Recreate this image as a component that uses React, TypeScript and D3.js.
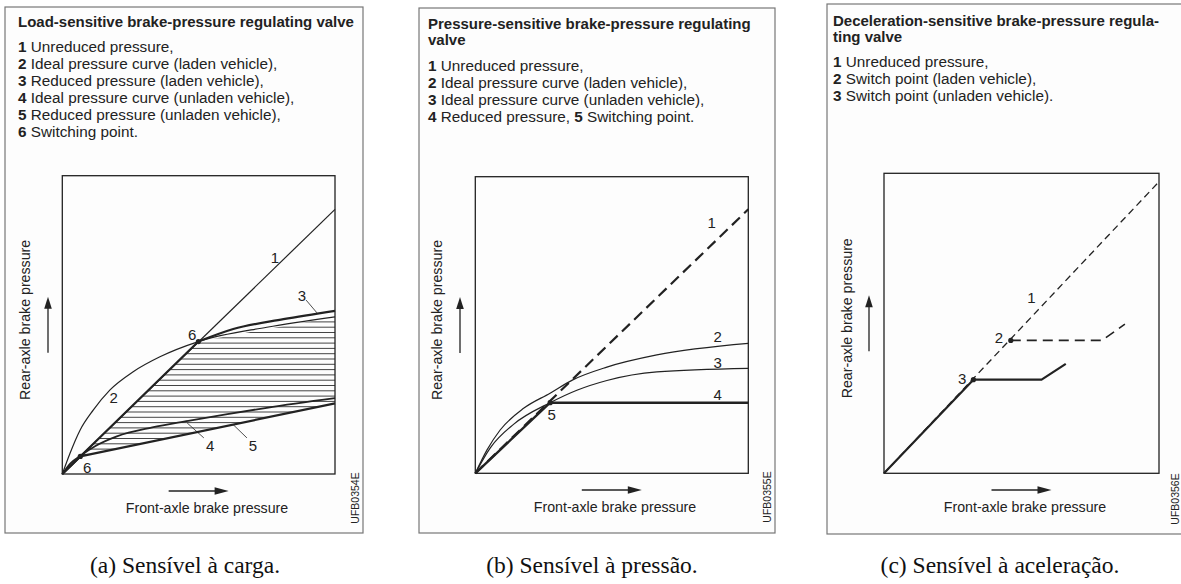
import React from "react";
import * as d3 from "d3";

type Pt = [number, number];

// Axes of every diagram: front-axle pressure (x) and rear-axle pressure (y), 0–100 % of the plot
const axisDomain: [number, number] = [0, 100];

// (a) Load-sensitive valve
const loadUnreduced: Pt[] = [[0, 0], [100, 88.7]];
const loadIdealLaden: Pt[] = [[0, 0], [2.8, 6.9], [6.5, 14.7], [11.4, 21.5], [17.5, 28.2], [26.0, 34.3], [35.8, 39.3], [49.9, 44.4], [75, 49.2], [100, 52.7]];
const loadReducedLaden: Pt[] = [[0, 0], [49.9, 44.4], [62.7, 48.6], [81.1, 51.9], [100, 54.7]];
const loadIdealUnladen: Pt[] = [[0, 0], [3, 3.6], [6.6, 6.1], [12, 9.3], [20, 12.6], [33, 15.6], [46.2, 17.8], [60, 20], [75, 22.2], [100, 25.4]];
const loadReducedUnladen: Pt[] = [[0, 0], [6.6, 5.9], [100, 23.7]];
const loadSwitchPoints: Pt[] = [[49.9, 44.4], [6.6, 5.9]];
const loadLabels: [string, number, number][] = [["1", 78, 72.7], ["2", 18.8, 25.8], ["3", 87.9, 60], ["6", 47.6, 46.8], ["6", 9.1, 2.3], ["4", 54.2, 9.7], ["5", 69.9, 9.7]];
const loadLeaders: [Pt, Pt][] = [[[89.4, 58.3], [93.4, 54]], [[51.9, 12.1], [45.8, 17.1]], [[67.7, 12.1], [62.6, 16.6]]];

// (b) Pressure-sensitive valve
const pressUnreduced: Pt[] = [[0, 0], [100, 89]];
const pressIdealLaden: Pt[] = [[0, 0], [4.3, 7.9], [9.1, 14.6], [17.7, 21.9], [27.4, 27.0], [35.7, 31.5], [48.2, 35.8], [66.5, 39.9], [100, 43.8]];
const pressIdealUnladen: Pt[] = [[0, 0], [5.5, 8.6], [14.0, 16.5], [27.4, 23.8], [37.2, 28.0], [48.2, 31.3], [66.5, 34.2], [100, 35.4]];
const pressReduced: Pt[] = [[0, 0], [27.4, 23.8], [100, 23.8]];
const pressSwitchPoints: Pt[] = [[27.4, 23.8]];
const pressLabels: [string, number, number][] = [["1", 86.6, 84.5], ["2", 88.8, 46], ["3", 88.8, 37.5], ["4", 88.8, 26.4], ["5", 28.0, 19.7]];

// (c) Deceleration-sensitive valve
const decelUnreduced: Pt[] = [[0, 0], [100, 97.2]];
const decelUnladen: Pt[] = [[0, 0], [32.5, 31.2], [57.3, 31.2], [66.1, 36.5]];
const decelLaden: Pt[] = [[46.1, 44.3], [79.2, 44.3], [87.6, 49.7]];
const decelSwitchPoints: Pt[] = [[46.1, 44.3], [32.5, 31.2]];
const decelLabels: [string, number, number][] = [["1", 53.6, 58.6], ["2", 41.8, 45.3], ["3", 28.4, 31.6]];

// Header texts
const loadTitle = ["Load-sensitive brake-pressure regulating valve"];
const loadLegend = ["1 Unreduced pressure,", "2 Ideal pressure curve (laden vehicle),", "3 Reduced pressure (laden vehicle),", "4 Ideal pressure curve (unladen vehicle),", "5 Reduced pressure (unladen vehicle),", "6 Switching point."];
const pressTitle = ["Pressure-sensitive brake-pressure regulating", "valve"];
const pressLegend = ["1 Unreduced pressure,", "2 Ideal pressure curve (laden vehicle),", "3 Ideal pressure curve (unladen vehicle),", "4 Reduced pressure, 5 Switching point."];
const decelTitle = ["Deceleration-sensitive brake-pressure regula-", "ting valve"];
const decelLegend = ["1 Unreduced pressure,", "2 Switch point (laden vehicle),", "3 Switch point (unladen vehicle)."];

const yAxisLabel = "Rear-axle brake pressure";
const xAxisLabel = "Front-axle brake pressure";
const drawingCodes = ["UFB0354E", "UFB0355E", "UFB0356E"];
const captions = ["(a) Sensível à carga.", "(b) Sensível à pressão.", "(c) Sensível à aceleração."];

const SANS = "'Liberation Sans', Arial, Helvetica, sans-serif";
const SERIF = "'Liberation Serif', 'Times New Roman', serif";
const INK = "#222";

type Box = { x0: number; y0: number; x1: number; y1: number };
// smoothFrom: index from which the series is drawn as a smooth curve (straight before it)
type Curve = { pts: Pt[]; width: number; dash?: string; smoothFrom?: number };

interface PanelProps {
  id: string;
  frame: Box;
  plot: Box;
  textX: number;
  title: string[];
  titleY: number;
  legend: string[];
  legendY: number;
  yLabelX: number;
  yArrowX: number;
  xLabelX: number;
  xLabelY: number;
  xArrowY: number;
  codeX: number;
  codeY: number;
  code: string;
  curves: Curve[];
  dots: Pt[];
  labels: [string, number, number][];
  leaders?: [Pt, Pt][];
  hatch?: Pt[];
}

function LegendLine({ text, x, y }: { text: string; x: number; y: number }) {
  const parts = text.split(/(\d+)/).filter((s) => s.length > 0);
  return (
    <text x={x} y={y} fontFamily={SANS} fontSize={15.3} fill={INK}>
      {parts.map((p, i) => (
        <tspan key={i} fontWeight={/^\d+$/.test(p) ? "bold" : "normal"}>{p}</tspan>
      ))}
    </text>
  );
}

function Panel(p: PanelProps) {
  const x = d3.scaleLinear().domain(axisDomain).range([p.plot.x0, p.plot.x1]);
  const y = d3.scaleLinear().domain(axisDomain).range([p.plot.y1, p.plot.y0]);
  const straight = d3.line<Pt>().x((d) => x(d[0])).y((d) => y(d[1]));
  const smooth = d3.line<Pt>().x((d) => x(d[0])).y((d) => y(d[1])).curve(d3.curveMonotoneX);

  const curvePath = (c: Curve) => {
    if (c.smoothFrom === undefined) return straight(c.pts) || "";
    const head = c.pts.slice(0, c.smoothFrom + 1);
    const tail = c.pts.slice(c.smoothFrom);
    return (head.length > 1 ? straight(head) || "" : "") + (smooth(tail) || "");
  };

  const hatchLines: number[] = [];
  if (p.hatch) {
    const ys = p.hatch.map((d) => y(d[1]));
    const top = Math.min(...ys), bottom = Math.max(...ys);
    for (let v = bottom - 2; v > top; v -= 5.3) hatchLines.push(v);
  }

  const ymid = (p.plot.y0 + p.plot.y1) / 2;
  const xmid = (p.plot.x0 + p.plot.x1) / 2;

  return (
    <g>
      <rect x={p.frame.x0} y={p.frame.y0} width={p.frame.x1 - p.frame.x0} height={p.frame.y1 - p.frame.y0} fill="#fdfdfd" stroke="#777" strokeWidth={1.2} />
      {p.title.map((t, i) => (
        <text key={i} x={p.textX} y={p.titleY + i * 16.5} fontFamily={SANS} fontSize={15} fontWeight="bold" fill={INK}>{t}</text>
      ))}
      {p.legend.map((t, i) => (
        <LegendLine key={i} text={t} x={p.textX} y={p.legendY + i * 17} />
      ))}

      {/* axis captions with direction arrows */}
      <text transform={`translate(${p.yLabelX},${ymid - 5}) rotate(-90)`} textAnchor="middle" dominantBaseline="central" fontFamily={SANS} fontSize={14.2} fill={INK}>{yAxisLabel}</text>
      <line x1={p.yArrowX} x2={p.yArrowX} y1={ymid + 28} y2={ymid - 18} stroke={INK} strokeWidth={1.3} />
      <path d={`M${p.yArrowX - 3.8},${ymid - 16} L${p.yArrowX},${ymid - 28} L${p.yArrowX + 3.8},${ymid - 16} Z`} fill={INK} />
      <text x={p.xLabelX} y={p.xLabelY} textAnchor="middle" fontFamily={SANS} fontSize={14.2} fill={INK}>{xAxisLabel}</text>
      <line x1={xmid - 30} x2={xmid + 18} y1={p.xArrowY} y2={p.xArrowY} stroke={INK} strokeWidth={1.3} />
      <path d={`M${xmid + 16},${p.xArrowY - 3.8} L${xmid + 30},${p.xArrowY} L${xmid + 16},${p.xArrowY + 3.8} Z`} fill={INK} />
      <text transform={`translate(${p.codeX},${p.codeY}) rotate(-90)`} textAnchor="middle" dominantBaseline="central" fontFamily={SANS} fontSize={10.5} fill={INK}>{p.code}</text>

      {/* hatched band between the reduced-pressure lines */}
      {p.hatch && (
        <>
          <clipPath id={`hatch-${p.id}`}>
            <path d={straight(p.hatch.concat([p.hatch[0]])) || ""} />
          </clipPath>
          <g clipPath={`url(#hatch-${p.id})`}>
            {hatchLines.map((v, i) => (
              <line key={i} x1={p.plot.x0} x2={p.plot.x1} y1={v} y2={v} stroke={INK} strokeWidth={0.85} />
            ))}
          </g>
        </>
      )}

      <rect x={p.plot.x0} y={p.plot.y0} width={p.plot.x1 - p.plot.x0} height={p.plot.y1 - p.plot.y0} fill="none" stroke={INK} strokeWidth={1.3} />

      {p.curves.map((c, i) => (
        <path key={i} d={curvePath(c)} fill="none" stroke={INK} strokeWidth={c.width} strokeDasharray={c.dash} strokeLinejoin="round" />
      ))}
      {p.leaders?.map((l, i) => (
        <line key={i} x1={x(l[0][0])} y1={y(l[0][1])} x2={x(l[1][0])} y2={y(l[1][1])} stroke={INK} strokeWidth={0.8} />
      ))}
      {p.dots.map((d, i) => (
        <circle key={i} cx={x(d[0])} cy={y(d[1])} r={2.6} fill={INK} />
      ))}
      {p.labels.map(([t, lx, ly], i) => (
        <text key={i} x={x(lx)} y={y(ly)} textAnchor="middle" dominantBaseline="central" fontFamily={SANS} fontSize={15} fill={INK}>{t}</text>
      ))}
    </g>
  );
}

export default function App() {
  return (
    <svg width={1181} height={584} viewBox="0 0 1181 584" style={{ position: "absolute", left: 0, top: 0, background: "#fff" }}>
      <Panel
        id="a"
        frame={{ x0: 5, y0: 7, x1: 363, y1: 533 }}
        plot={{ x0: 62.3, y0: 175.7, x1: 335, y1: 474 }}
        textX={18}
        title={loadTitle}
        titleY={27}
        legend={loadLegend}
        legendY={52}
        yLabelX={25}
        yArrowX={48}
        xLabelX={207}
        xLabelY={513}
        xArrowY={491}
        codeX={355}
        codeY={498}
        code={drawingCodes[0]}
        curves={[
          { pts: loadUnreduced, width: 1.2 },
          { pts: loadIdealLaden, width: 1.2, smoothFrom: 0 },
          { pts: loadReducedLaden, width: 2.2, smoothFrom: 1 },
          { pts: loadIdealUnladen, width: 1.8, smoothFrom: 0 },
          { pts: loadReducedUnladen, width: 2.2 },
        ]}
        dots={loadSwitchPoints}
        labels={loadLabels}
        leaders={loadLeaders}
        hatch={[loadReducedUnladen[1], loadIdealLaden[7], loadIdealLaden[9], loadReducedUnladen[2]]}
      />
      <Panel
        id="b"
        frame={{ x0: 419, y0: 8, x1: 775, y1: 533 }}
        plot={{ x0: 475.3, y0: 176.7, x1: 748.3, y1: 473.3 }}
        textX={428}
        title={pressTitle}
        titleY={28.5}
        legend={pressLegend}
        legendY={70.5}
        yLabelX={437}
        yArrowX={460}
        xLabelX={615}
        xLabelY={512}
        xArrowY={490}
        codeX={767}
        codeY={497}
        code={drawingCodes[1]}
        curves={[
          { pts: pressUnreduced, width: 2.2, dash: "11 6" },
          { pts: pressIdealLaden, width: 1.2, smoothFrom: 0 },
          { pts: pressIdealUnladen, width: 1.2, smoothFrom: 0 },
          { pts: pressReduced, width: 2.4 },
        ]}
        dots={pressSwitchPoints}
        labels={pressLabels}
      />
      <Panel
        id="c"
        frame={{ x0: 827, y0: 4, x1: 1186, y1: 534 }}
        plot={{ x0: 884, y0: 173.3, x1: 1159, y1: 473.3 }}
        textX={833}
        title={decelTitle}
        titleY={25.5}
        legend={decelLegend}
        legendY={66.5}
        yLabelX={847}
        yArrowX={869}
        xLabelX={1025}
        xLabelY={512}
        xArrowY={490}
        codeX={1175}
        codeY={499}
        code={drawingCodes[2]}
        curves={[
          { pts: decelUnreduced, width: 1.3, dash: "7 4.5" },
          { pts: decelUnladen, width: 2.2 },
          { pts: decelLaden, width: 1.6, dash: "10 6" },
        ]}
        dots={decelSwitchPoints}
        labels={decelLabels}
      />
      {captions.map((c, i) => (
        <text key={i} x={[185, 592, 1000][i]} y={573} textAnchor="middle" fontFamily={SERIF} fontSize={23.5} fill="#111">{c}</text>
      ))}
    </svg>
  );
}
